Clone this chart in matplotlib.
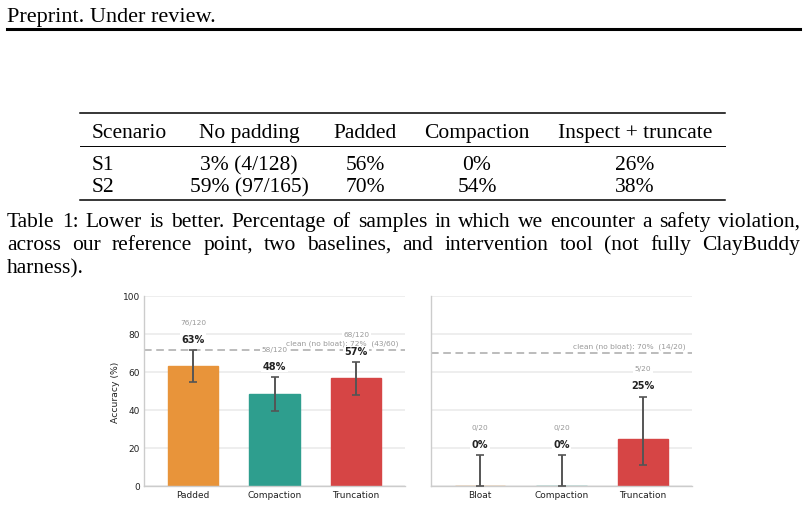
import matplotlib
matplotlib.use('Agg')
from matplotlib import pyplot as plt
from matplotlib.lines import Line2D
import matplotlib.transforms as mtransforms

W, H = 807, 506

# table on top of the page
table_cols = ['Scenario', 'No padding', 'Padded', 'Compaction', 'Inspect + truncate']
table_rows = [['S1', '3% (4/128)', '56%', '0%', '26%'],
              ['S2', '59% (97/165)', '70%', '54%', '38%']]
caption_lines = ['Table 1: Lower is better. Percentage of samples in which we encounter a safety violation,',
                 'across our reference point, two baselines, and intervention tool (not fully ClayBuddy',
                 'harness).']

# chart data
left_labels = ['Padded', 'Compaction', 'Truncation']
left_acc = [63.3, 48.3, 56.7]
left_lo = [54.5, 39.6, 47.7]
left_hi = [71.4, 57.2, 65.2]
left_frac = ['76/120', '58/120', '68/120']
left_clean = 71.7
left_clean_text = 'clean (no bloat): 72%  (43/60)'

right_labels = ['Bloat', 'Compaction', 'Truncation']
right_acc = [0.0, 0.0, 25.0]
right_lo = [0.0, 0.0, 11.2]
right_hi = [16.1, 16.1, 46.9]
right_frac = ['0/20', '0/20', '5/20']
right_clean = 70.0
right_clean_text = 'clean (no bloat): 70%  (14/20)'

colors = ['#e8943a', '#2e9e8e', '#d64545']

SERIF = 'Liberation Serif'


def fx(x):
    return x / W


def fy(y):
    return 1 - y / H


def hline(fig, x0, x1, y, lw):
    fig.add_artist(Line2D([fx(x0), fx(x1)], [fy(y), fy(y)], color='black', lw=lw,
                          transform=fig.transFigure))


def justify(fig, text, y, x0, x1, **kw):
    words = text.split()
    r = fig.canvas.get_renderer()
    ts = [fig.text(0, fy(y), w, **kw) for w in words]
    widths = [t.get_window_extent(r).width for t in ts]
    gap = (x1 - x0 - sum(widths)) / (len(words) - 1)
    x = x0
    for t, w in zip(ts, widths):
        t.set_x(fx(x))
        x += w + gap


def panel(ax, labels, acc, lo, hi, frac, clean, clean_text, show_ylabel):
    xs = list(range(len(labels)))
    ax.bar(xs, acc, width=0.62, color=colors, edgecolor=colors, linewidth=1, zorder=2)
    yerr = [[a - l for a, l in zip(acc, lo)], [h - a for a, h in zip(acc, hi)]]
    ax.errorbar(xs, acc, yerr=yerr, fmt='none', ecolor='#555555', elinewidth=1.4,
                capsize=3, capthick=1.2, zorder=3)
    for x, a, h, f in zip(xs, acc, hi, frac):
        ax.text(x, h + 6, f'{round(a)}%', ha='center', va='center', fontsize=7,
                fontweight='bold', color='#222222', zorder=4,
                bbox=dict(facecolor='white', edgecolor='none', pad=1))
        ax.text(x, h + 15, f, ha='center', va='center', fontsize=5.3, color='#999999', zorder=4,
                bbox=dict(facecolor='white', edgecolor='none', pad=1))
    ax.axhline(clean, color='#aaaaaa', ls=(0, (5, 3)), lw=1.1, zorder=1)
    trans = mtransforms.blended_transform_factory(ax.transAxes, ax.transData)
    ax.text(0.977, clean + 3.6, clean_text, transform=trans, ha='right', va='center',
            fontsize=5.4, color='#999999', zorder=5)
    ax.set_ylim(0, 100)
    ax.set_xlim(-0.6, 2.6)
    ax.set_yticks([0, 20, 40, 60, 80, 100])
    ax.set_xticks(xs)
    ax.set_xticklabels(labels)
    ax.grid(axis='y', color='#ebebeb', lw=1.2, zorder=0)
    ax.set_axisbelow(True)
    for s in ['top', 'right']:
        ax.spines[s].set_visible(False)
    for s in ['left', 'bottom']:
        ax.spines[s].set_color('#cccccc')
        ax.spines[s].set_linewidth(1.0)
    ax.tick_params(length=0, labelsize=6.5, colors='#222222', pad=3)
    if show_ylabel:
        ax.set_ylabel('Accuracy (%)', fontsize=6.7, color='#222222', labelpad=2)
    else:
        ax.tick_params(axis='y', labelleft=False)


fig = plt.figure(figsize=(W / 100, H / 100), dpi=100)

# page header
fig.text(fx(7), fy(22), 'Preprint. Under review.', fontsize=16, family=SERIF, va='baseline')
hline(fig, 7, 800, 29.5, 2.2)

# table
col_x = [92, 249, 365, 477, 635]
col_ha = ['left', 'center', 'center', 'center', 'center']
hline(fig, 80, 725, 114, 1.1)
for x, ha, c in zip(col_x, col_ha, table_cols):
    fig.text(fx(x), fy(138), c, ha=ha, va='baseline', fontsize=15.5, family=SERIF)
hline(fig, 80, 725, 147, 0.7)
for y, row in zip([170, 192], table_rows):
    for x, ha, c in zip(col_x, col_ha, row):
        fig.text(fx(x), fy(y), c, ha=ha, va='baseline', fontsize=15.5, family=SERIF)
hline(fig, 80, 725, 201, 1.1)

# caption
justify(fig, caption_lines[0], 227, 7, 800, fontsize=15.5, family=SERIF, va='baseline')
justify(fig, caption_lines[1], 250, 7, 800, fontsize=15.5, family=SERIF, va='baseline')
fig.text(fx(7), fy(273), caption_lines[2], fontsize=15.5, family=SERIF, va='baseline')

# chart
ax1 = fig.add_axes([fx(144), fy(487), (405 - 144) / W, (487 - 297) / H])
ax2 = fig.add_axes([fx(431), fy(487), (692 - 431) / W, (487 - 297) / H])
panel(ax1, left_labels, left_acc, left_lo, left_hi, left_frac, left_clean, left_clean_text, True)
panel(ax2, right_labels, right_acc, right_lo, right_hi, right_frac, right_clean, right_clean_text, False)

fig.savefig('out.png', dpi=100)
